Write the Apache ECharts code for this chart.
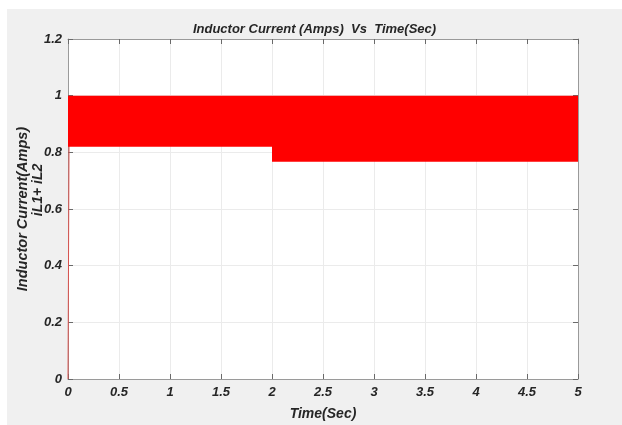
<!DOCTYPE html>
<html><head><meta charset="utf-8">
<script src="https://cdn.jsdelivr.net/npm/echarts@6/dist/echarts.min.js"></script>
<style>html,body{margin:0;padding:0;background:#fff;}#c{position:absolute;left:7px;top:9px;width:615px;height:416px;}</style>
</head><body><div id="c"></div>
<script>
const segmentStart = [0, 2];
const segmentEnd = [2, 5];
const lowerBound = [0.82, 0.767];
const upperBound = [1.0, 1.0];
const startupTime = [0, 0.012];
const startupCurrent = [0, 1.0];
const xTicks = [0, 0.5, 1, 1.5, 2, 2.5, 3, 3.5, 4, 4.5, 5];
const yTicks = [0, 0.2, 0.4, 0.6, 0.8, 1, 1.2];
const yLabelLines = ['Inductor Current(Amps)', 'iL1+ iL2'];

const FONT = "'Liberation Sans', Arial, sans-serif";
const bandData = segmentStart.map((t, i) => [t, segmentEnd[i], lowerBound[i], upperBound[i]]);
const startData = startupTime.map((t, i) => [t, startupCurrent[i]]);

const txt = {fontFamily: FONT, fontStyle: 'italic', fontWeight: 'bold', color: '#262626'};
const chart = echarts.init(document.getElementById('c'));
const axisCommon = {
  axisLine: {show: true, onZero: false, lineStyle: {color: '#9a9a9a', width: 1}},
  axisTick: {show: true, inside: true, length: 5, lineStyle: {color: '#6a6a6a'}},
  splitLine: {show: false}
};
const gtxt = (s, x, y, size) => ({type: 'text', x: x, y: y, rotation: Math.PI / 2,
  style: {text: s, fill: '#262626', font: 'italic bold ' + size + 'px ' + FONT, align: 'center', verticalAlign: 'middle'}});
chart.setOption({
  backgroundColor: '#f0f0f0',
  animation: false,
  title: {text: 'Inductor Current (Amps)  Vs  Time(Sec)', left: 'center', top: 9,
    textStyle: Object.assign({fontSize: 13}, txt)},
  graphic: [gtxt(yLabelLines[0], 16, 200, 14.5), gtxt(yLabelLines[1], 31, 181, 14)],
  grid: {left: 61, top: 30, right: 44, bottom: 46, show: true, backgroundColor: '#ffffff', borderWidth: 0,
    outerBoundsMode: 'none', containLabel: false},
  xAxis: [Object.assign({}, axisCommon, {
    type: 'value', min: 0, max: 5, interval: 0.5, position: 'bottom',
    name: 'Time(Sec)', nameLocation: 'middle', nameGap: 28,
    nameTextStyle: Object.assign({fontSize: 14}, txt),
    axisLabel: Object.assign({fontSize: 13, margin: 7, formatter: v => xTicks.includes(v) ? String(v) : ''}, txt),
    splitLine: {show: true, lineStyle: {color: '#ebebeb', width: 1}}
  }), Object.assign({}, axisCommon, {
    type: 'value', min: 0, max: 5, interval: 0.5, position: 'top', axisLabel: {show: false}
  })],
  yAxis: [Object.assign({}, axisCommon, {
    type: 'value', min: 0, max: 1.2, interval: 0.2, position: 'left',
    axisLabel: Object.assign({fontSize: 13, margin: 6, formatter: v => yTicks.some(t => Math.abs(t - v) < 1e-9) ? String(+v.toFixed(1)) : ''}, txt),
    splitLine: {show: true, lineStyle: {color: '#ebebeb', width: 1}}
  }), Object.assign({}, axisCommon, {
    type: 'value', min: 0, max: 1.2, interval: 0.2, position: 'right', axisLabel: {show: false}
  })],
  series: [
    {type: 'custom', data: bandData, z: 3, clip: true,
      renderItem: (params, api) => {
        const p0 = api.coord([api.value(0), api.value(3)]);
        const p1 = api.coord([api.value(1), api.value(2)]);
        return {type: 'rect', shape: {x: p0[0], y: p0[1], width: p1[0] - p0[0], height: p1[1] - p0[1]},
          style: {fill: '#ff0000'}};
      }},
    {type: 'line', data: startData, symbol: 'none', lineStyle: {color: '#d9534f', width: 1}, z: 2}
  ]
});
</script></body></html>
